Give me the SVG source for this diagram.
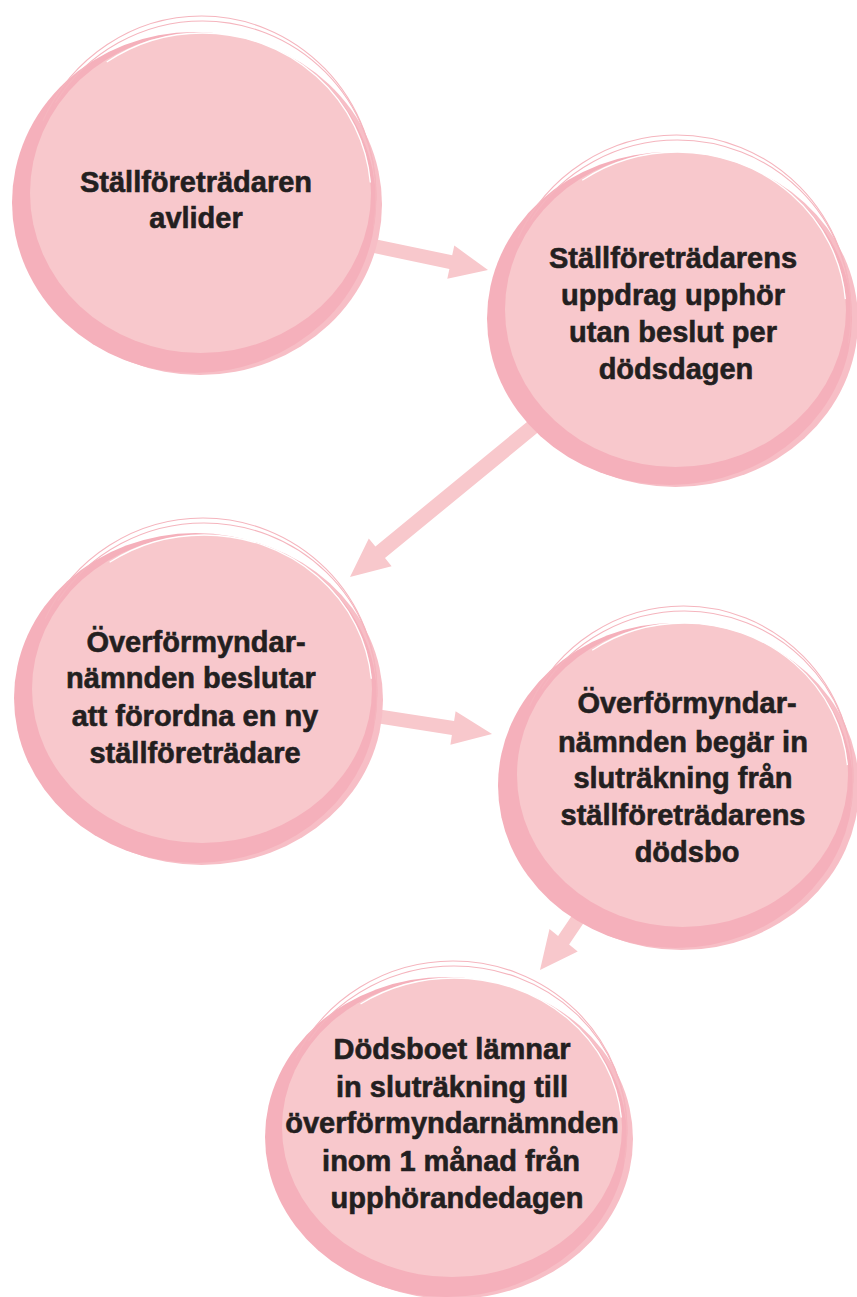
<svg xmlns="http://www.w3.org/2000/svg" width="857" height="1297" viewBox="0 0 857 1297">
<style>
.mid{fill:#f7bec6}
.dark{fill:#f5b0bb}
.light{fill:#f8c8cc}
.sk{fill:none;stroke:#f5b5be;stroke-width:1.1}
.skw{fill:none;stroke:#ffffff;stroke-width:1.3}
.arrow{fill:#f8c8cc}
text{font-family:"Liberation Sans",Arial,sans-serif;font-weight:bold;font-size:29px;fill:#231f20;stroke:#231f20;stroke-width:0.6;text-anchor:middle}
</style>
<rect width="857" height="1297" fill="#ffffff"/>
<g id="connectors">
<polygon class="arrow" points="375.4,239.2 452.2,255.3 454.3,245.6 488,270 447.3,278.8 449.4,269.0 372.6,252.8"/>
<polygon class="arrow" points="535.2,415.2 375.4,546.5 368.8,538.4 350,577 391.6,566.2 385.0,558.1 544.8,426.8"/>
<polygon class="arrow" points="373.1,708.5 454.1,721.1 455.6,711.2 492,734 450.4,744.8 451.9,734.9 370.9,722.3"/>
<polygon class="arrow" points="578.5,905.7 558.1,935.9 549.5,929.0 540,970 577.7,951.4 569.1,944.5 589.5,914.3"/>
</g>
<g id="node1">
<ellipse class="mid" cx="200" cy="204.5" rx="182" ry="170.5"/>
<ellipse class="dark" cx="194" cy="202.5" rx="182" ry="170.5"/>
<ellipse class="light" cx="200.5" cy="193" rx="170.5" ry="160"/>
<ellipse class="sk" cx="201.5" cy="196" rx="174.5" ry="180" pathLength="360" stroke-dasharray="165 195" stroke-dashoffset="-205"/>
<ellipse class="sk" cx="202.5" cy="195" rx="173.5" ry="174" pathLength="360" stroke-dasharray="150 210" stroke-dashoffset="-212"/>
<ellipse class="skw" cx="202.5" cy="197" rx="168.5" ry="164" pathLength="360" stroke-dasharray="120 240" stroke-dashoffset="-235"/>
<text x="196" y="192">Ställföreträdaren</text>
<text x="196" y="228">avlider</text>
</g>
<g id="node2">
<ellipse class="mid" cx="675.5" cy="320.5" rx="182.5" ry="166.5"/>
<ellipse class="dark" cx="669.5" cy="318.5" rx="182.5" ry="166.5"/>
<ellipse class="light" cx="675.5" cy="309.5" rx="170.5" ry="157.5"/>
<ellipse class="sk" cx="676.5" cy="312.5" rx="174.5" ry="177.5" pathLength="360" stroke-dasharray="165 195" stroke-dashoffset="-205"/>
<ellipse class="sk" cx="677.5" cy="311.5" rx="173.5" ry="171.5" pathLength="360" stroke-dasharray="150 210" stroke-dashoffset="-212"/>
<ellipse class="skw" cx="677.5" cy="313.5" rx="168.5" ry="161.5" pathLength="360" stroke-dasharray="120 240" stroke-dashoffset="-235"/>
<text x="673" y="268">Ställföreträdarens</text>
<text x="673" y="305">uppdrag upphör</text>
<text x="673" y="342">utan beslut per</text>
<text x="676" y="379">dödsdagen</text>
</g>
<g id="node3">
<ellipse class="mid" cx="201.5" cy="700" rx="181.5" ry="165"/>
<ellipse class="dark" cx="195.5" cy="698" rx="181.5" ry="165"/>
<ellipse class="light" cx="202" cy="689" rx="170" ry="154"/>
<ellipse class="sk" cx="203" cy="692" rx="174" ry="174" pathLength="360" stroke-dasharray="165 195" stroke-dashoffset="-205"/>
<ellipse class="sk" cx="204" cy="691" rx="173" ry="168" pathLength="360" stroke-dasharray="150 210" stroke-dashoffset="-212"/>
<ellipse class="skw" cx="204" cy="693" rx="168" ry="158" pathLength="360" stroke-dasharray="120 240" stroke-dashoffset="-235"/>
<text x="196" y="652">Överförmyndar-</text>
<text x="191" y="688">nämnden beslutar</text>
<text x="195" y="726">att förordna en ny</text>
<text x="195" y="763">ställföreträdare</text>
</g>
<g id="node4">
<ellipse class="mid" cx="681.5" cy="787.5" rx="177.5" ry="162.5"/>
<ellipse class="dark" cx="675.5" cy="785.5" rx="177.5" ry="162.5"/>
<ellipse class="light" cx="682.5" cy="775" rx="165.5" ry="152"/>
<ellipse class="sk" cx="683.5" cy="778" rx="169.5" ry="172" pathLength="360" stroke-dasharray="165 195" stroke-dashoffset="-205"/>
<ellipse class="sk" cx="684.5" cy="777" rx="168.5" ry="166" pathLength="360" stroke-dasharray="150 210" stroke-dashoffset="-212"/>
<ellipse class="skw" cx="684.5" cy="779" rx="163.5" ry="156" pathLength="360" stroke-dasharray="120 240" stroke-dashoffset="-235"/>
<text x="687" y="713">Överförmyndar-</text>
<text x="683" y="752">nämnden begär in</text>
<text x="683" y="788">sluträkning från</text>
<text x="683" y="825">ställföreträdarens</text>
<text x="687" y="862">dödsbo</text>
</g>
<g id="node5">
<ellipse class="mid" cx="452" cy="1139" rx="181" ry="160"/>
<ellipse class="dark" cx="446" cy="1137" rx="181" ry="160"/>
<ellipse class="light" cx="452" cy="1127.5" rx="170" ry="149.5"/>
<ellipse class="sk" cx="453" cy="1130.5" rx="174" ry="169.5" pathLength="360" stroke-dasharray="165 195" stroke-dashoffset="-205"/>
<ellipse class="sk" cx="454" cy="1129.5" rx="173" ry="163.5" pathLength="360" stroke-dasharray="150 210" stroke-dashoffset="-212"/>
<ellipse class="skw" cx="454" cy="1131.5" rx="168" ry="153.5" pathLength="360" stroke-dasharray="120 240" stroke-dashoffset="-235"/>
<text x="452" y="1059">Dödsboet lämnar</text>
<text x="452" y="1097">in sluträkning till</text>
<text x="452" y="1133">överförmyndarnämnden</text>
<text x="451" y="1171">inom 1 månad från</text>
<text x="457" y="1208">upphörandedagen</text>
</g>
</svg>
